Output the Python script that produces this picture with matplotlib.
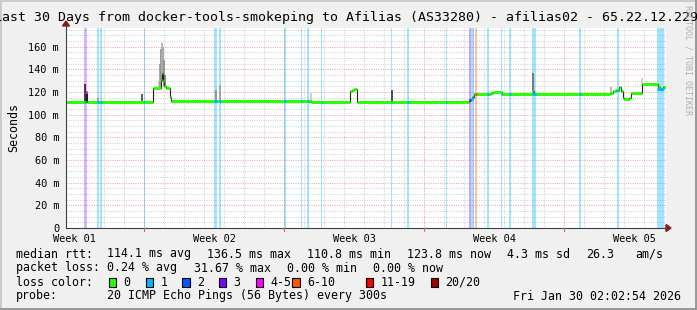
import numpy as np
import matplotlib.pyplot as plt
from matplotlib.patches import Rectangle, Polygon
from matplotlib.lines import Line2D

W, H = 697, 310
MONO = 'DejaVu Sans Mono'

# ---------------- data (x in days from left edge of graph, y in ms) ----------------
t_med = [0.0, 0.925, 0.975, 1.025, 3.9, 4.35, 4.725, 4.775, 4.85, 4.9, 5.0, 5.175, 5.25,
         12.25, 14.2, 14.3, 14.4, 14.525, 20.05, 20.15, 20.225, 20.3, 20.4, 21.25, 21.35,
         21.775, 23.325, 23.375, 27.2, 27.35, 27.5, 27.625, 27.725, 27.825, 27.9, 28.125,
         28.225, 28.8, 29.6, 29.7, 29.825, 30.0]
rtt_med = [111.5, 111.5, 120, 111.5, 110.8, 123.8, 131, 136.5, 130, 125.6, 123.5, 116, 112.5,
           111, 121, 122, 123, 111, 111.5, 113, 114, 116, 118, 119.5, 120.3,
           118, 121, 118, 119, 121, 122, 124, 121, 114.5, 113.8, 114.5,
           119.4, 126.8, 124, 122.4, 124, 124]

smoke_t = [0.95, 1.6, 3.785, 4.65, 4.7, 4.75, 4.8, 4.85, 4.9, 4.95, 7.5, 7.675, 12.25,
           16.285, 23.335, 27.25, 28.8, 29.7]
smoke_top = [127, 115, 118, 130, 145, 158, 163, 160, 148, 135, 122, 126, 119,
             122, 137, 124, 132, 128]
smoke_grey = ['#303030', '#a0a0a0', '#505050', '#c8c8c8', '#a0a0a0', '#909090', '#b0b0b0',
              '#a8a8a8', '#909090', '#808080', '#909090', '#a0a0a0', '#c8c8c8',
              '#404040', '#707070', '#b0b0b0', '#c8c8c8', '#c8c8c8']

loss_start = [0.9, 0.965, 1.55, 1.715, 3.9, 7.4, 7.65, 10.915, 11.75, 12.035, 12.75, 16.235,
              17.035, 19.0, 20.135, 20.25, 20.335, 20.45, 21.035, 21.75, 22.135, 23.3, 25.65,
              27.55, 29.55]
loss_end = [0.965, 1.035, 1.65, 1.8, 3.965, 7.535, 7.75, 10.985, 11.815, 12.135, 12.815, 16.3,
            17.15, 19.05, 20.25, 20.335, 20.415, 20.535, 21.15, 21.815, 22.25, 23.5, 25.75,
            27.65, 29.9]
loss_cat = [1, 4, 1, 1, 1, 1, 1, 1, 1, 1, 1, 1, 1, 1, 3, 1, 2, 5, 1, 1, 1, 1, 1, 1, 1]

loss_labels = ['0', '1', '2', '3', '4-5', '6-10', '11-19', '20/20']
loss_colors = ['#26ff00', '#00b8ff', '#0059ff', '#7e00ff', '#ff00ff', '#ff5500', '#ff0000', '#a10000']

week_pos = [0.425, 7.425, 14.425, 21.425, 28.425]
week_labels = ['Week 01', 'Week 02', 'Week 03', 'Week 04', 'Week 05']
week_bounds = [3.915, 10.915, 17.915, 24.915]
y_ticks = [0, 20, 40, 60, 80, 100, 120, 140, 160]
y_labels = ['0', '20 m', '40 m', '60 m', '80 m', '100 m', '120 m', '140 m', '160 m']

title = 'Last 30 Days from docker-tools-smokeping to Afilias (AS33280) - afilias02 - 65.22.12.229'
rtt_stats = ['114.1 ms avg', '136.5 ms max', '110.8 ms min', '123.8 ms now', '4.3 ms sd', '26.3', 'am/s']
loss_stats = ['0.24 % avg', '31.67 % max', '0.00 % min', '0.00 % now']
probe_text = '20 ICMP Echo Pings (56 Bytes) every 300s'
stamp = 'Fri Jan 30 02:02:54 2026'


def fx(x):
    return x / W


def fy(y):
    return 1 - y / H


# ---------------- figure ----------------
fig = plt.figure(figsize=(W / 100, H / 100), dpi=100, facecolor='#f0f0f0')
ax = fig.add_axes([fx(66), fy(228), 600 / W, 200 / H])
ax.set_facecolor('white')
ax.set_xlim(0, 30)
ax.set_ylim(0, 176.5)
for s in ax.spines.values():
    s.set_visible(False)

# grid
grid_kw = dict(lw=0.75, dashes=(1, 1.2), zorder=1)
for d in np.arange(0.915, 30, 1.0):
    if min(abs(d - b) for b in week_bounds) > 0.01:
        ax.axvline(d, color='#d2d2d2', **grid_kw)
for y in np.arange(5, 176, 5):
    if y % 20:
        ax.axhline(y, color='#d2d2d2', **grid_kw)
for b in week_bounds:
    ax.axvline(b, color='#f0a8a8', **grid_kw)
for y in y_ticks[1:]:
    ax.axhline(y, color='#f0a8a8', **grid_kw)

# loss stripes
for s0, s1, c in zip(loss_start, loss_end, loss_cat):
    ax.axvspan(s0, s1, color=loss_colors[c], alpha=0.36, lw=0, zorder=2)

# smoke
med_at = lambda x: rtt_med[max(0, np.searchsorted(t_med, x, side='right') - 1)]
for t, top, g in zip(smoke_t, smoke_top, smoke_grey):
    m = med_at(t)
    ax.vlines(t, m, top, color=g, lw=1.3, zorder=3)

# median line
ax.step(t_med, rtt_med, where='post', color='#202020', lw=0.8, zorder=4)
ax.hlines(rtt_med[:-1], t_med[:-1], t_med[1:], color=loss_colors[0], lw=2.1, zorder=5)
for s0, s1, c in zip(loss_start, loss_end, loss_cat):
    ax.hlines(med_at((s0 + s1) / 2), s0, s1, color=loss_colors[c], lw=2.1, zorder=6)

# ticks
ax.set_xticks(week_pos)
ax.set_xticklabels(week_labels, fontfamily=MONO, fontsize=7.4)
ax.set_yticks(y_ticks)
ax.set_yticklabels(y_labels, fontfamily=MONO, fontsize=7.4)
ax.tick_params(length=0)
ax.tick_params(axis='x', pad=4)
ax.tick_params(axis='y', pad=5)
ax.set_ylabel('Seconds', fontfamily=MONO, fontsize=8.4, labelpad=6)

# axes lines with arrows
fig.add_artist(Line2D([fx(66), fx(666)], [fy(228), fy(228)], color='#404040', lw=0.8))
fig.add_artist(Line2D([fx(66), fx(66)], [fy(228), fy(24)], color='#404040', lw=0.8))
fig.add_artist(Polygon([(fx(666), fy(224.5)), (fx(666), fy(231.5)), (fx(671), fy(228))],
                       closed=True, color='#8b1a1a'))
fig.add_artist(Polygon([(fx(62.5), fy(26)), (fx(69.5), fy(26)), (fx(66), fy(21))],
                       closed=True, color='#8b1a1a'))
for b in week_bounds:
    xp = 66 + b * 20
    fig.add_artist(Line2D([fx(xp), fx(xp)], [fy(228), fy(231)], color='#e06060', lw=0.8))

# title and watermark
fig.text(fx(346), fy(17), title, fontfamily=MONO, fontsize=9.5, ha='center', va='center')
fig.text(fx(688), fy(5), 'RRDTOOL / TOBI OETIKER', fontfamily=MONO, fontsize=6,
         color='#b0b0b0', rotation=270, ha='center', va='top')

# legend text
txt = dict(fontfamily=MONO, fontsize=8.4, va='center')
fig.text(fx(16), fy(254), 'median rtt:', **txt)
for x, s in zip([107.3, 207.3, 306.7, 407.3, 506.7, 586, 635.7], rtt_stats):
    fig.text(fx(x), fy(254), s, **txt)
fig.text(fx(16), fy(268), 'packet loss:', **txt)
for x, s in zip([107.3, 193.7, 286.7, 372.7], loss_stats):
    fig.text(fx(x), fy(268), s, **txt)
fig.text(fx(16), fy(282), 'loss color:', **txt)
box_x = [108.7, 145.7, 182.3, 219, 255.7, 292.3, 365.7, 431]
for x, lab, col in zip(box_x, loss_labels, loss_colors):
    fig.add_artist(Rectangle((fx(x), fy(286.7)), 7.3 / W, 9 / H, facecolor=col,
                             edgecolor='black', lw=0.8))
    fig.text(fx(x + 14.6), fy(282), lab, **txt)
fig.text(fx(16), fy(296), 'probe:', **txt)
fig.text(fx(107.3), fy(296), probe_text, **txt)
fig.text(fx(513.3), fy(296), stamp, **txt)

# frame shading
fig.add_artist(Rectangle((0, fy(2)), 1, 2 / H, color='#cbcbcb', lw=0))
fig.add_artist(Rectangle((0, 0), 2 / W, 1, color='#cbcbcb', lw=0))
fig.add_artist(Rectangle((0, 0), 1, 2 / H, color='#999999', lw=0))
fig.add_artist(Rectangle((fx(695), 0), 2 / W, 1, color='#999999', lw=0))

fig.savefig('out.png', dpi=100, facecolor=fig.get_facecolor())
